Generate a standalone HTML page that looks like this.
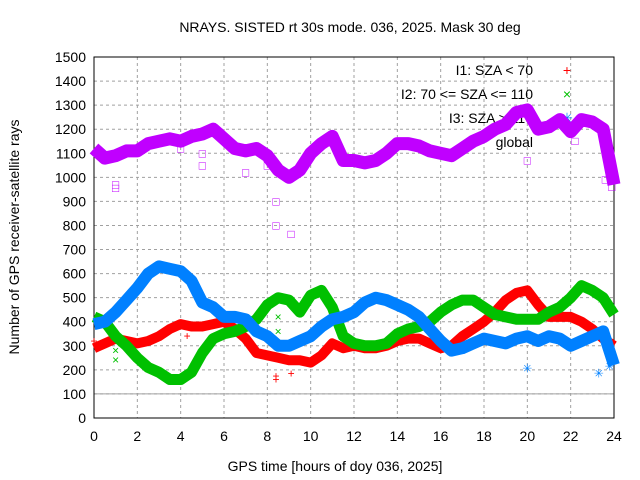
<!DOCTYPE html>
<html><head><meta charset="utf-8"><style>
body{margin:0;background:#fff}
svg{display:block;font-family:"Liberation Sans",sans-serif}
</style></head><body>
<svg id="c" width="640" height="480">
<text x="350" y="32" text-anchor="middle" font-size="14">NRAYS. SISTED rt 30s mode. 036, 2025. Mask 30 deg</text>
<g id="grid"></g>
<g id="axes"></g>
<g id="legend"></g>
<g id="series"></g>
<text x="335" y="471" text-anchor="middle" font-size="14">GPS time [hours of doy 036, 2025]</text>
<text transform="translate(19,237) rotate(-90)" text-anchor="middle" font-size="14">Number of GPS receiver-satellite rays</text>
</svg>
<script>
const hours=[0,0.5,1,1.5,2,2.5,3,3.5,4,4.5,5,5.5,6,6.5,7,7.5,8,8.5,9,9.5,10,10.5,11,11.5,12,12.5,13,13.5,14,14.5,15,15.5,16,16.5,17,17.5,18,18.5,19,19.5,20,20.5,21,21.5,22,22.5,23,23.5,24];
const totalVals=[1120,1080,1090,1110,1110,1140,1150,1160,1150,1170,1180,1200,1160,1120,1110,1120,1090,1030,1000,1030,1100,1140,1170,1070,1070,1060,1070,1100,1140,1140,1130,1110,1100,1090,1120,1150,1170,1200,1220,1270,1280,1200,1210,1240,1190,1240,1230,1200,970];
const i3Vals=[390,400,440,490,540,600,630,620,610,570,480,460,420,420,410,360,340,300,300,320,340,380,410,420,440,480,500,490,470,450,420,370,320,280,290,310,330,320,310,330,340,320,340,330,300,320,340,360,220];
const i1Vals=[290,310,330,320,310,320,340,370,390,380,380,390,400,370,330,270,260,250,240,240,230,260,310,290,300,290,290,300,320,330,330,310,290,300,340,370,400,440,490,520,530,470,420,420,420,400,370,330,300];
const i2Vals=[420,400,340,300,250,210,190,160,160,190,270,330,350,360,380,410,470,500,490,440,510,530,460,340,310,300,300,310,350,370,380,400,440,470,490,490,460,430,420,410,410,410,440,460,500,550,530,500,430];
const totalOutH=[1,1,4,5,5,7,8,8.4,8.4,9.1,20,22.2,23.6,23.9];
const totalOutV=[970,955,1120,1050,1100,1020,1050,900,800,765,1070,1150,990,960];
const i1OutH=[4.3,8.4,8.4,9.1,0];
const i1OutV=[340,175,160,185,320];
const i2OutH=[1,1,8.5,8.5,23.4];
const i2OutV=[280,240,420,360,490];
const i3OutH=[20,23.3,23.8];
const i3OutV=[205,185,215];
const yTicks=[0,100,200,300,400,500,600,700,800,900,1000,1100,1200,1300,1400,1500];
const xTicks=[0,2,4,6,8,10,12,14,16,18,20,22,24];
const legendLabels=["I1: SZA < 70","I2: 70 <= SZA <= 110","I3: SZA > 110","global"];
const NS="http://www.w3.org/2000/svg";
const X0=94,X1=614,Y0=418,Y1=57;
const sx=h=>X0+h/24*(X1-X0), sy=v=>Y0-v/1500*(Y0-Y1);
function mk(tag,attrs,parent){const e=document.createElementNS(NS,tag);for(const k in attrs)e.setAttribute(k,attrs[k]);parent.appendChild(e);return e;}
const grid=document.getElementById('grid'),axes=document.getElementById('axes'),ser=document.getElementById('series'),leg=document.getElementById('legend');
yTicks.forEach(v=>{
 if(v>0&&v<1500){const l=mk('line',{x1:X0,x2:X1,y1:sy(v),y2:sy(v),stroke:'#a0a0a0','stroke-dasharray':'3,3'},grid);
 
 }
 const t=mk('text',{x:86,y:sy(v)+5,'text-anchor':'end','font-size':14},axes);t.textContent=v;
 
 
});
xTicks.forEach(h=>{
 if(h>0&&h<24){const l=mk('line',{x1:sx(h),x2:sx(h),y1:Y1,y2:Y0,stroke:'#a0a0a0','stroke-dasharray':'3,3'},grid);
 
 }
 const t=mk('text',{x:sx(h),y:441,'text-anchor':'middle','font-size':14},axes);t.textContent=h;
 
 
});
const ref=mk('line',{x1:X0,x2:X1,y1:sy(100),y2:sy(100),stroke:'#a0a0a0'},grid);


const fr=mk('rect',{x:X0,y:Y1,width:X1-X0,height:Y0-Y1,fill:'none',stroke:'#000'},axes);


const cols=['#ff0000','#00c000','#0080ff','#c000ff'];
const glyphs=['+','×','✳',''];
legendLabels.forEach((s,i)=>{
 const t=mk('text',{x:533,y:75+i*24,'text-anchor':'end','font-size':14},leg);t.textContent=s;
 
 
 const g=mk('text',{x:567,y:75+i*24,'text-anchor':'middle','font-size':14,fill:cols[i]},leg);g.textContent=glyphs[i];
 
 
});
function drawSeries(vals,col,name,w){
 const d=hours.map((h,i)=>(i?'L':'M')+sx(h).toFixed(1)+','+sy(vals[i]).toFixed(1)).join(' ');
 const p=mk('path',{d:d,fill:'none',stroke:col,'stroke-width':w,'stroke-linejoin':'round','stroke-linecap':'butt'},ser);
 
 
}
function drawOut(hs,vs,col,glyph,name){
 hs.forEach((h,i)=>{
  const t=mk('text',{x:sx(h),y:sy(vs[i])+4,'text-anchor':'middle','font-size':12,fill:col},ser);t.textContent=glyph;
  
  
 });
}
drawSeries(i1Vals,'#ff0000','series-i1',10);
drawOut(i1OutH,i1OutV,'#ff0000','+','outlier-i1');
drawSeries(i2Vals,'#00c000','series-i2',11);
drawOut(i2OutH,i2OutV,'#00c000','×','outlier-i2');
drawSeries(i3Vals,'#0080ff','series-i3',12);
drawOut(i3OutH,i3OutV,'#0080ff','✳','outlier-i3');
drawSeries(totalVals,'#c000ff','series-total',13);
drawOut(totalOutH,totalOutV,'#c000ff','□','outlier-total');
</script>
</body></html>
